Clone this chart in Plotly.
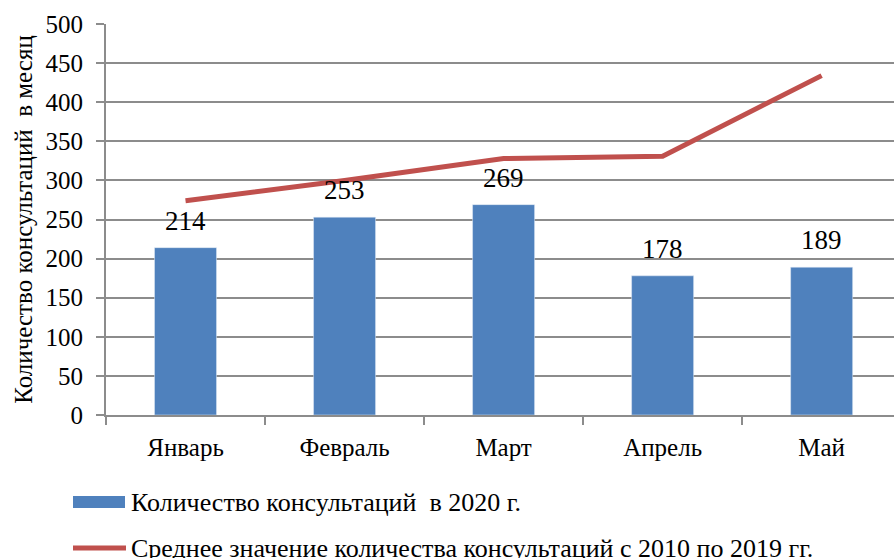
import plotly.graph_objects as go

months = ["Январь", "Февраль", "Март", "Апрель", "Май"]
consult_2020 = [214, 253, 269, 178, 189]
avg_2010_2019 = [274, 300, 328, 331, 434]
bar_name = "Количество консультаций  в 2020 г."
line_name = "Среднее значение количества консультаций с 2010 по 2019 гг."
y_title = "Количество консультаций  в месяц"

W, H = 894, 558
ML, MR, MT, MB = 106, 0, 24, 143
PW, PH = W - ML - MR, H - MT - MB
FONT = "'Liberation Serif', 'Times New Roman', Times, 'DejaVu Serif', serif"
BLUE = "#4F81BD"
RED = "#C0504D"
GRID = "#8C8C8C"

def px_x(p):
    return (p - ML) / PW

def px_y(p):
    return (H - MB - p) / PH

fig = go.Figure()
fig.add_trace(go.Bar(x=months, y=consult_2020, name=bar_name, marker_color=BLUE,
                     width=0.39, showlegend=False))
fig.add_trace(go.Scatter(x=months, y=avg_2010_2019, name=line_name, mode="lines",
                         line=dict(color=RED, width=5), showlegend=False))

for m, v in zip(months, consult_2020):
    fig.add_annotation(x=m, y=v, text=str(v), showarrow=False, yshift=27,
                       font=dict(family=FONT, size=27, color="#000"))

# custom legend (wide swatches as in the reference)
fig.add_shape(type="rect", xref="paper", yref="paper",
              x0=px_x(73), x1=px_x(125), y0=px_y(508), y1=px_y(496),
              fillcolor=BLUE, line=dict(width=0))
fig.add_annotation(xref="paper", yref="paper", x=px_x(129), y=px_y(503),
                   xanchor="left", yanchor="middle", text=bar_name, showarrow=False,
                   font=dict(family=FONT, size=26, color="#000"))
fig.add_shape(type="line", xref="paper", yref="paper",
              x0=px_x(73), x1=px_x(126), y0=px_y(548), y1=px_y(548),
              line=dict(color=RED, width=5))
fig.add_annotation(xref="paper", yref="paper", x=px_x(129), y=px_y(548),
                   xanchor="left", yanchor="middle", text=line_name, showarrow=False,
                   font=dict(family=FONT, size=26, color="#000"))

fig.update_layout(
    width=W, height=H,
    margin=dict(l=ML, r=MR, t=MT, b=MB, autoexpand=False),
    paper_bgcolor="white", plot_bgcolor="white",
    font=dict(family=FONT, size=22, color="#000"),
    bargap=0.61,
)
fig.update_xaxes(range=[-0.5, 4.455], showgrid=False, showline=True, linecolor=GRID,
                 linewidth=2, ticks="outside", tickson="boundaries", ticklen=8,
                 tickcolor=GRID, tickwidth=2, tickfont=dict(family=FONT, size=25, color="#000"),
                 ticklabelstandoff=9)
fig.update_yaxes(range=[0, 500], dtick=50, showgrid=True, gridcolor=GRID, gridwidth=2,
                 showline=True, linecolor=GRID, linewidth=2, ticks="outside", ticklen=8,
                 tickcolor=GRID, tickwidth=2, zeroline=False,
                 tickfont=dict(family=FONT, size=25, color="#000"), ticklabelstandoff=8,
                 title=dict(text=y_title, font=dict(family=FONT, size=25, color="#000"), standoff=6))

fig.write_html("out.html", config={"displayModeBar": False},
               post_script="document.body.style.margin='0';document.body.style.overflow='hidden';")
